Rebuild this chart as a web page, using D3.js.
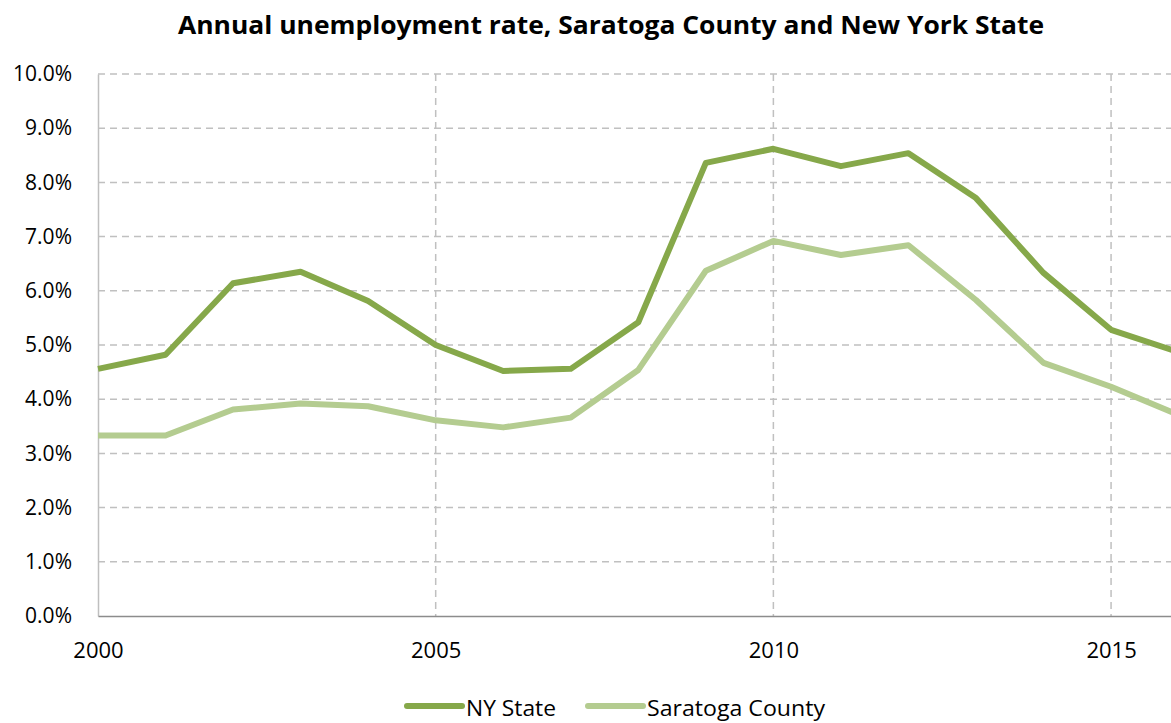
<!DOCTYPE html>
<html>
<head>
<meta charset="utf-8">
<script src="https://cdn.jsdelivr.net/npm/d3@7"></script>
<style>
  html, body { margin: 0; padding: 0; background: #fff; }
  svg { display: block; }
</style>
</head>
<body>
<div id="chart"></div>
<script>
const years = [2000, 2001, 2002, 2003, 2004, 2005, 2006, 2007, 2008, 2009, 2010, 2011, 2012, 2013, 2014, 2015, 2016];
const nyState = [4.56, 4.82, 6.14, 6.35, 5.81, 5.0, 4.52, 4.56, 5.42, 8.36, 8.62, 8.3, 8.54, 7.71, 6.33, 5.28, 4.87];
const saratoga = [3.33, 3.33, 3.81, 3.92, 3.87, 3.61, 3.48, 3.66, 4.54, 6.37, 6.92, 6.66, 6.84, 5.83, 4.67, 4.23, 3.71];
const seriesNames = ["NY State", "Saratoga County"];
const yTicks = [0, 1, 2, 3, 4, 5, 6, 7, 8, 9, 10];
const xTicks = [2000, 2005, 2010, 2015];

const W = 1171, H = 723;
const FONT = '"Open Sans", "Noto Sans", sans-serif';
const NY_COLOR = "#86A84A";
const SARA_COLOR = "#B4CC90";
const GRID = "#C0C0C0";

const x = d3.scaleLinear().domain([2000, 2016]).range([98, 1178.6]);
const y = d3.scaleLinear().domain([0, 10]).range([616, 74]);

const svg = d3.select("#chart").append("svg")
  .attr("width", W)
  .attr("height", H)
  .style("font-family", FONT);

// title
svg.append("text")
  .attr("x", 611)
  .attr("y", 34)
  .attr("text-anchor", "middle")
  .attr("font-size", 25)
  .attr("font-weight", 700)
  .attr("textLength", 866)
  .attr("lengthAdjust", "spacingAndGlyphs")
  .attr("fill", "#000")
  .text("Annual unemployment rate, Saratoga County and New York State");

// horizontal gridlines
svg.append("g")
  .selectAll("line")
  .data(yTicks.filter(d => d > 0))
  .join("line")
  .attr("x1", x(2000))
  .attr("x2", W)
  .attr("y1", d => y(d))
  .attr("y2", d => y(d))
  .attr("stroke", GRID)
  .attr("stroke-width", 1.5)
  .attr("stroke-dasharray", "7,5");

// vertical gridlines
svg.append("g")
  .selectAll("line")
  .data(xTicks.filter(d => d > 2000))
  .join("line")
  .attr("x1", d => x(d))
  .attr("x2", d => x(d))
  .attr("y1", y(10))
  .attr("y2", y(0))
  .attr("stroke", GRID)
  .attr("stroke-width", 1.5)
  .attr("stroke-dasharray", "7,5");

// y axis
const yAxis = svg.append("g")
  .attr("transform", `translate(${x(2000)},0)`)
  .call(d3.axisLeft(y).tickValues(yTicks).tickSize(0).tickPadding(26)
    .tickFormat(d => d.toFixed(1) + "%"));
yAxis.select(".domain").attr("stroke", "#BFBFBF").attr("stroke-width", 1.5);
yAxis.selectAll("text")
  .attr("font-size", 21)
  .attr("fill", "#000")
  .style("font-family", FONT);

// x axis
const xAxis = svg.append("g")
  .attr("transform", `translate(0,${y(0)})`)
  .call(d3.axisBottom(x).tickValues(xTicks).tickSize(0).tickPadding(26)
    .tickFormat(d3.format("d")));
xAxis.select(".domain").attr("stroke", "#8C8C8C").attr("stroke-width", 1.5);
xAxis.selectAll("text")
  .attr("font-size", 22)
  .attr("fill", "#000")
  .style("font-family", FONT);

// lines
const line = d3.line()
  .x((d, i) => x(years[i]))
  .y(d => y(d));

svg.append("path")
  .datum(saratoga)
  .attr("fill", "none")
  .attr("stroke", SARA_COLOR)
  .attr("stroke-width", 6)
  .attr("stroke-linejoin", "round")
  .attr("d", line);

svg.append("path")
  .datum(nyState)
  .attr("fill", "none")
  .attr("stroke", NY_COLOR)
  .attr("stroke-width", 6)
  .attr("stroke-linejoin", "round")
  .attr("d", line);

// legend
const legendItems = [
  { name: seriesNames[0], color: NY_COLOR, x: 407, len: 90 },
  { name: seriesNames[1], color: SARA_COLOR, x: 588, len: 178 }
];
const legend = svg.append("g");
legendItems.forEach(item => {
  legend.append("line")
    .attr("x1", item.x)
    .attr("x2", item.x + 55)
    .attr("y1", 706)
    .attr("y2", 706)
    .attr("stroke", item.color)
    .attr("stroke-width", 6)
    .attr("stroke-linecap", "round");
  legend.append("text")
    .attr("x", item.x + 59)
    .attr("y", 716)
    .attr("font-size", 21)
    .attr("textLength", item.len)
    .attr("lengthAdjust", "spacingAndGlyphs")
    .attr("fill", "#000")
    .text(item.name);
});
</script>
</body>
</html>
